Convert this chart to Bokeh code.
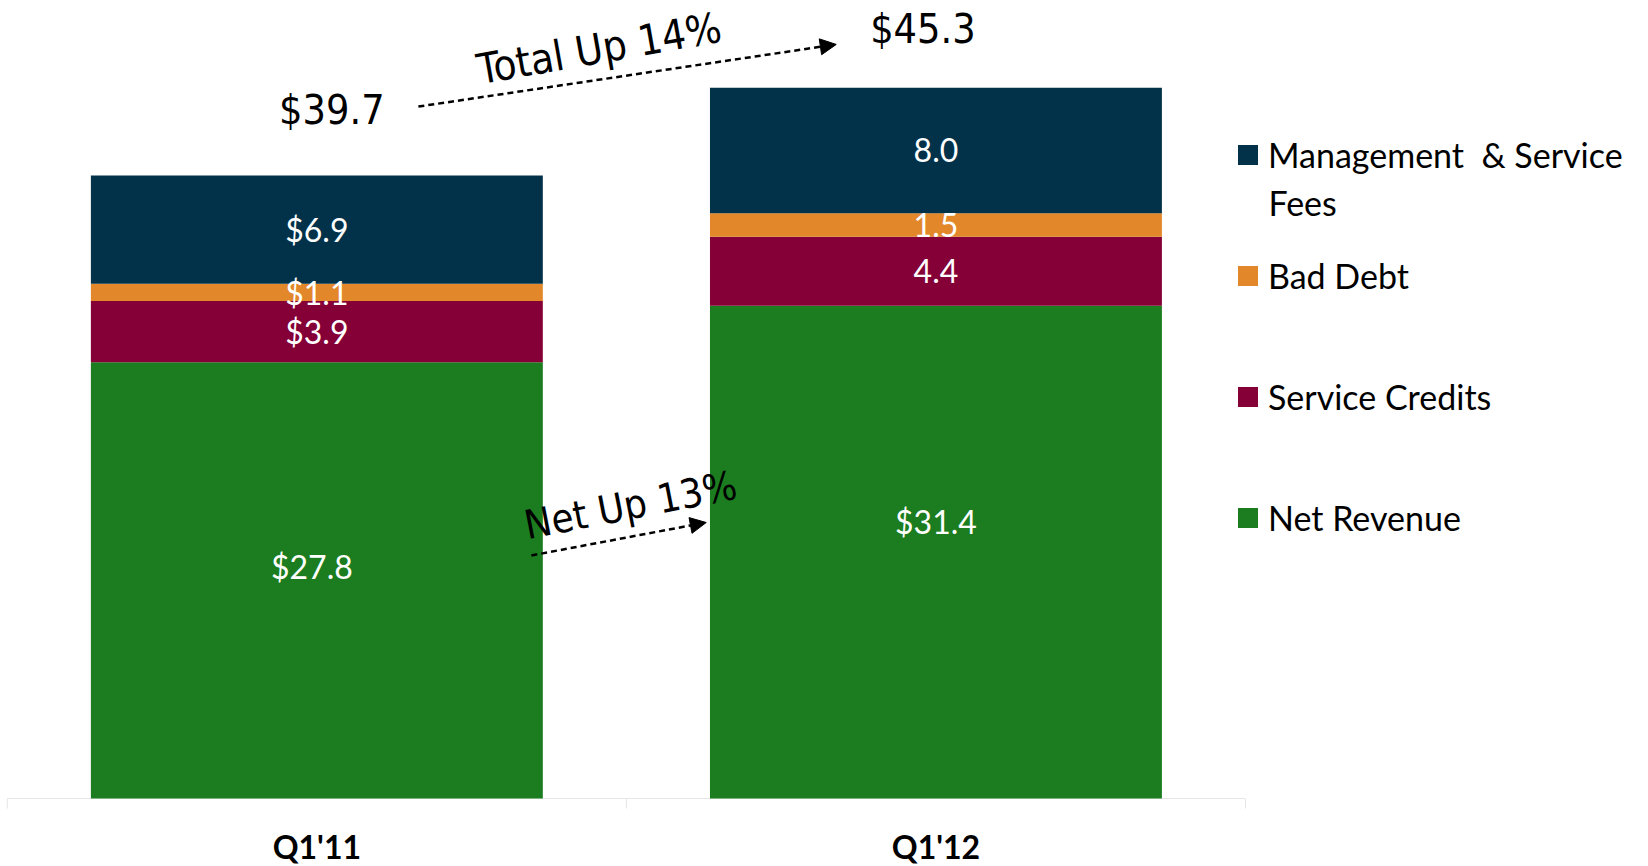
import numpy as np
from bokeh.plotting import figure
from bokeh.models import (ColumnDataSource, Range1d, Legend, LegendItem,
                          Arrow, NormalHead, Label)
from bokeh.core.properties import value
from bokeh.embed import file_html
from bokeh.resources import INLINE

# ---------------- data ----------------
categories = ["Q1'11", "Q1'12"]
series = ["Net Revenue", "Service Credits", "Bad Debt", "Management  & Service"]
series_wrap = "Fees"
net_revenue = [27.8, 31.4]
service_credits = [3.9, 4.4]
bad_debt = [1.1, 1.5]
mgmt_fees = [6.9, 8.0]
totals = [39.7, 45.3]
labels_net = ["$27.8", "$31.4"]
labels_credits = ["$3.9", "4.4"]
labels_bad = ["$1.1", "1.5"]
labels_mgmt = ["$6.9", "8.0"]
total_labels = ["$39.7", "$45.3"]
total_change = "Total Up 14%"
net_change = "Net Up 13%"

# ---------------- style ----------------
colors = ["#1b7d1f", "#840037", "#e2872a", "#02324a"]
total_x_offsets = [15, -13]
total_y_offsets = [-66, -59]
net_label_x_offsets = [-5, 0]
net_label_y_offsets = [-14, -31]

xs = list(range(len(categories)))
keys = ["net", "credits", "bad", "mgmt"]
src = ColumnDataSource(dict(x=xs, net=net_revenue, credits=service_credits,
                            bad=bad_debt, mgmt=mgmt_fees))

# y=0 sits 68px above the bottom edge, 15.69 px per unit
p = figure(width=1648, height=866, output_backend="svg", toolbar_location=None,
           x_range=Range1d(-0.511, 2.151), y_range=Range1d(-4.334, 50.86),
           min_border=0)
p.outline_line_color = None
p.grid.visible = False
p.xaxis.visible = False
p.yaxis.visible = False

# baseline & category separators
bounds = np.arange(len(categories) + 1) - 0.5
p.segment(x0=[bounds[0]], y0=[0], x1=[bounds[-1]], y1=[0], line_color="#e6e6e6", line_width=1)
p.segment(x0=bounds, y0=[0] * len(bounds), x1=bounds, y1=[-0.64] * len(bounds),
          line_color="#e6e6e6", line_width=1)

# category labels
p.text(x=xs, y=[0] * len(xs), text=categories, y_offset=48, text_color="black",
       text_font=value("Lato"), text_font_style="bold", text_font_size="32px",
       text_align="center", text_baseline="middle")

renderers = p.vbar_stack(keys, x="x", width=0.73, source=src, color=colors, line_width=0)

# segment labels
vals = np.array([net_revenue, service_credits, bad_debt, mgmt_fees])
cum = np.cumsum(vals, axis=0)
centers = cum - vals / 2
lab_texts = [labels_net, labels_credits, labels_bad, labels_mgmt]
lx, ly, lt, lxo, lyo = [], [], [], [], []
for i in range(len(keys)):
    for j in xs:
        lx.append(j)
        ly.append(centers[i, j])
        lt.append(lab_texts[i][j])
        lxo.append(net_label_x_offsets[j] if i == 0 else 0)
        lyo.append(net_label_y_offsets[j] if i == 0 else 0)
lsrc = ColumnDataSource(dict(x=lx, y=ly, t=lt, xo=lxo, yo=lyo))
p.text(x="x", y="y", text="t", x_offset="xo", y_offset="yo", source=lsrc,
       text_color="white", text_font=value("Lato"),
       text_font_size="32px", text_align="center", text_baseline="middle")

# totals
tsrc = ColumnDataSource(dict(x=xs, y=totals, t=total_labels,
                             xo=total_x_offsets, yo=total_y_offsets))
p.text(x="x", y="y", text="t", x_offset="xo", y_offset="yo", source=tsrc,
       text_color="black", text_font=value("DejaVu Sans Condensed"), text_font_size="41px",
       text_align="center", text_baseline="middle")

# arrows & change annotations
p.add_layout(Arrow(end=NormalHead(size=16, fill_color="black", line_color="black"),
                   x_start=0.164, y_start=44.1, x_end=0.839, y_end=48.06,
                   line_dash="6 4", line_width=2.5, line_color="black"))
p.add_layout(Label(x=0.456, y=47.8, text=total_change, angle=10, angle_units="deg",
                   text_align="center", text_baseline="middle", text_color="black",
                   text_font="DejaVu Sans Condensed", text_font_size="42px"))
p.add_layout(Arrow(end=NormalHead(size=16, fill_color="black", line_color="black"),
                   x_start=0.3465, y_start=15.49, x_end=0.629, y_end=17.59,
                   line_dash="6 4", line_width=2.5, line_color="black"))
p.add_layout(Label(x=0.5065, y=18.7, text=net_change, angle=11, angle_units="deg",
                   text_align="center", text_baseline="middle", text_color="black",
                   text_font="DejaVu Sans Condensed", text_font_size="40px"))

# legend (top series first)
items = [LegendItem(label=value(series[i]), renderers=[renderers[i]])
         for i in reversed(range(len(series)))]
legend = Legend(items=items, location=(1235, 328), glyph_width=25, glyph_height=25,
                label_height=25, label_standoff=8, spacing=80, padding=0, margin=0,
                border_line_color=None, background_fill_alpha=0,
                label_text_font="Lato", label_text_font_size="34px", label_text_color="black")
p.add_layout(legend)
p.add_layout(Label(x=1.537, y=38.0, text=series_wrap, text_align="left",
                   text_baseline="middle", text_color="black",
                   text_font="Lato", text_font_size="34px"))

open("out.html", "w").write(file_html(p, INLINE))
